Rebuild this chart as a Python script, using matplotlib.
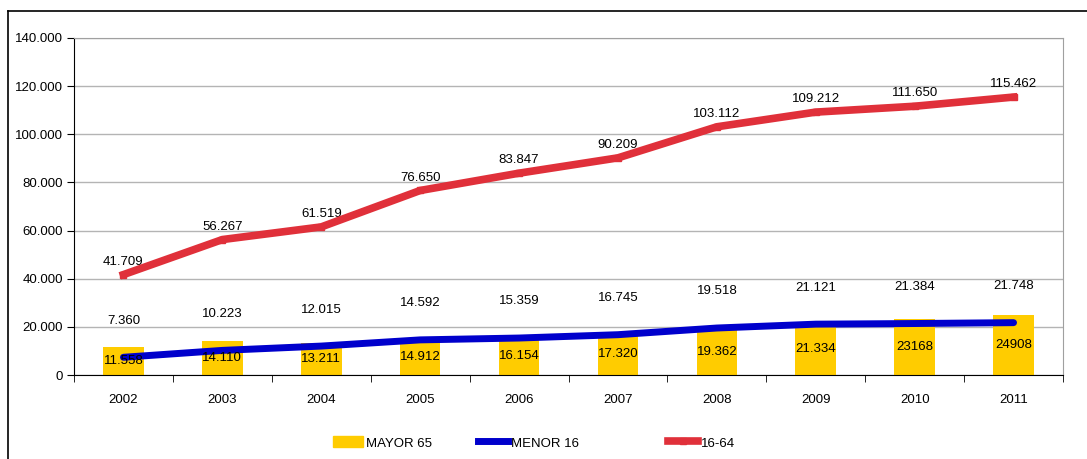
import numpy as np
import matplotlib
matplotlib.use("Agg")
import matplotlib.pyplot as plt
from matplotlib.lines import Line2D
from matplotlib.patches import Patch

plt.rcParams['font.family'] = ['Liberation Sans', 'DejaVu Sans']

years = ['2002', '2003', '2004', '2005', '2006', '2007', '2008', '2009', '2010', '2011']
mayor65 = [11558, 14110, 13211, 14912, 16154, 17320, 19362, 21334, 23168, 24908]
menor16 = [7360, 10223, 12015, 14592, 15359, 16745, 19518, 21121, 21384, 21748]
edad16_64 = [41709, 56267, 61519, 76650, 83847, 90209, 103112, 109212, 111650, 115462]
mayor65_txt = ['11.558', '14.110', '13.211', '14.912', '16.154', '17.320', '19.362', '21.334', '23168', '24908']


def fmt(v):
    return f"{v:,}".replace(",", ".")


W, H = 1087, 459
fig = plt.figure(figsize=(W / 100, H / 100), dpi=100)
ax = fig.add_axes([74 / W, 1 - 375 / H, (1063 - 74) / W, (375 - 38) / H])

x = np.arange(len(years))
ax.bar(x, mayor65, width=0.41, color='#FFCC00', zorder=2)
ax.plot(x, menor16, color='#0000CC', lw=5, zorder=3, solid_capstyle='round')
ax.plot(x, edad16_64, color='#E0303A', lw=5.5, marker='s', ms=5, zorder=4)

fs = 9.5
for i in x:
    ax.text(i, mayor65[i] / 2, mayor65_txt[i], ha='center', va='center', fontsize=fs, zorder=5)
    ax.annotate(fmt(menor16[i]), (i, menor16[i]), xytext=(0, 22), textcoords='offset points',
                ha='center', va='bottom', fontsize=fs)
    ax.annotate(fmt(edad16_64[i]), (i, edad16_64[i]), xytext=(0, 5), textcoords='offset points',
                ha='center', va='bottom', fontsize=fs)

ax.set_xlim(-0.5, len(years) - 0.5)
ax.set_ylim(0, 140000)
ax.set_yticks(np.arange(0, 140001, 20000))
ax.set_yticklabels([fmt(v) for v in range(0, 140001, 20000)], fontsize=fs)
ax.set_xticks(x)
ax.set_xticklabels(years, fontsize=fs)
ax.tick_params(axis='x', length=0, pad=14)
ax.set_xticks(np.arange(-0.5, len(years)), minor=True)
ax.tick_params(axis='x', which='minor', length=5, direction='out')
ax.tick_params(axis='y', length=5, direction='out', pad=3)
ax.yaxis.grid(True, color='#B4B4B4', lw=1)
ax.set_axisbelow(True)
for s in ['top', 'right']:
    ax.spines[s].set_color('#A0A0A0')
for s in ['left', 'bottom']:
    ax.spines[s].set_color('black')

# legend: one entry per box, placed like the original
entries = [
    (Patch(color='#FFCC00'), 'MAYOR 65', 333),
    (Line2D([], [], color='#0000CC', lw=5), 'MENOR 16', 478),
    (Line2D([], [], color='#E0303A', lw=5.5, marker='s', ms=5), '16-64', 668),
]
for h, lab, px in entries:
    leg = fig.legend([h], [lab], loc='center left', bbox_to_anchor=(px / W, 1 - 443 / H),
                     frameon=False, fontsize=fs, borderpad=0, borderaxespad=0,
                     handlelength=2.3, handletextpad=0.2, handleheight=0.9)

# outer frame (cropped at right and bottom)
fig.add_artist(Line2D([8 / W, 1.0], [1 - 11 / H, 1 - 11 / H], color='black', lw=1.2))
fig.add_artist(Line2D([8 / W, 8 / W], [0, 1 - 11 / H], color='black', lw=1.2))

fig.savefig('out.png', dpi=100)
